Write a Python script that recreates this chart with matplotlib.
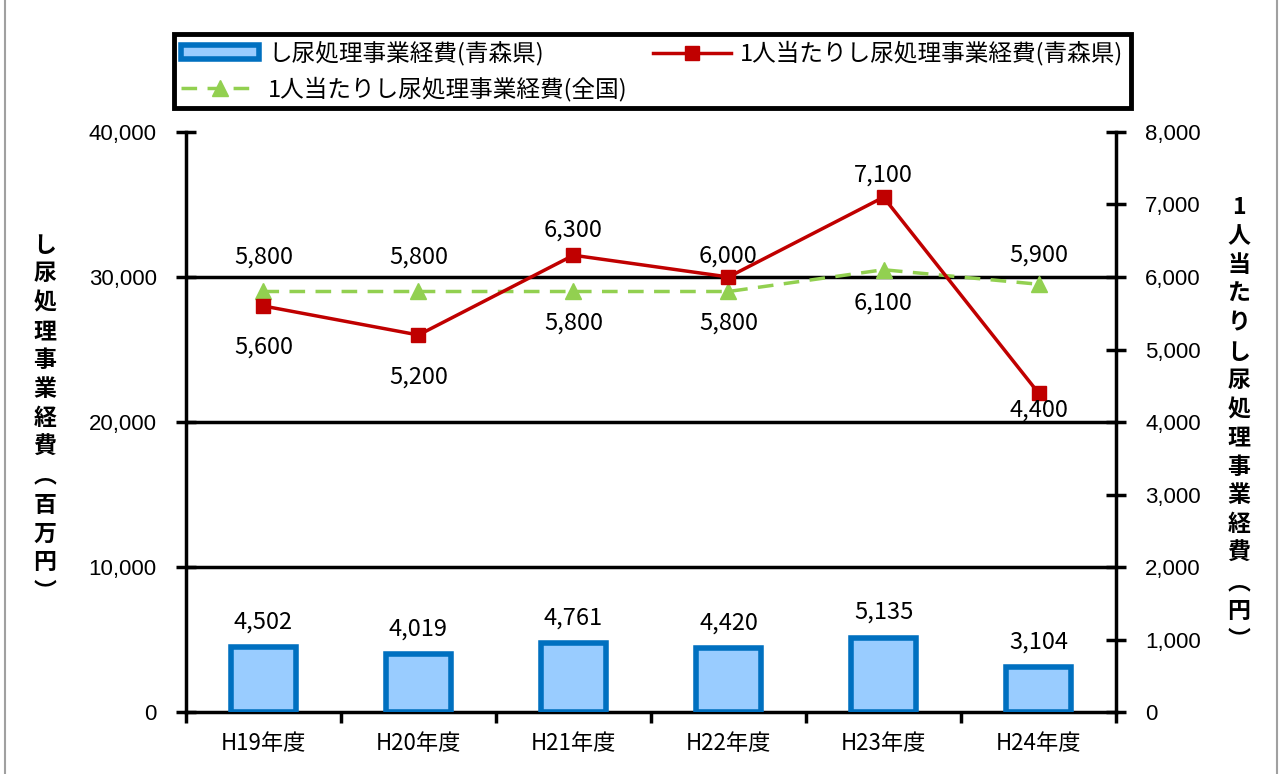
import matplotlib.pyplot as plt
from matplotlib.patches import Rectangle
from matplotlib.ticker import FuncFormatter, MultipleLocator

plt.rcParams['font.family'] = ['Noto Sans CJK JP', 'DejaVu Sans']

# データ
years = ['H19年度', 'H20年度', 'H21年度', 'H22年度', 'H23年度', 'H24年度']
total_cost = [4502, 4019, 4761, 4420, 5135, 3104]          # し尿処理事業経費（百万円）
per_capita_aomori = [5600, 5200, 6300, 6000, 7100, 4400]   # 1人当たり（青森県）
per_capita_japan = [5800, 5800, 5800, 5800, 6100, 5900]    # 1人当たり（全国）

# ラベルのずらし量（ピクセル、上が正）
aomori_off = [-41, -42, 25, 21, 22, -17]
japan_off = [34, 34, -32, -32, -33, 29]

blue_edge = '#0070C0'
blue_fill = '#99CCFF'
red = '#C00000'
green = '#92D050'

fig = plt.figure(figsize=(12.85, 7.74), dpi=100)
fig.patches.append(Rectangle((0.004, -0.01), 0.99, 1.05, transform=fig.transFigure,
                             fill=False, edgecolor='#a0a0a0', linewidth=1.5))

ax = fig.add_axes([0.1447, 0.080, 0.7238, 0.7495])
x = list(range(len(years)))

bars = ax.bar(x, total_cost, width=0.42, color=blue_fill, edgecolor=blue_edge,
              linewidth=4, zorder=3, label='し尿処理事業経費(青森県)')
for xi, v in zip(x, total_cost):
    ax.annotate(f'{v:,}', (xi, v), xytext=(0, 25), textcoords='offset pixels',
                ha='center', va='center', fontsize=17)

ax.set_xlim(-0.5, 5.5)
ax.set_ylim(0, 40000)
ax.yaxis.set_major_locator(MultipleLocator(10000))
ax.yaxis.set_major_formatter(FuncFormatter(lambda v, p: f'{int(v):,}'))
ax.set_xticks([i - 0.5 for i in range(7)], minor=True)
ax.set_xticks(x)
ax.set_xticklabels(years, fontsize=16)
ax.tick_params(axis='x', which='major', length=0, pad=14)
ax.tick_params(axis='x', which='minor', length=8, width=2.5, direction='out')
ax.tick_params(axis='y', length=14, width=2.5, direction='inout', pad=14)
for lab in ax.get_yticklabels():
    lab.set_family('Liberation Sans')
    lab.set_fontsize(16)
for yv in [10000, 20000, 30000]:
    ax.axhline(yv, color='black', linewidth=2.5, zorder=1)
ax.spines['top'].set_visible(False)
ax.spines['right'].set_visible(False)
ax.spines['left'].set_linewidth(2.5)
ax.spines['bottom'].set_linewidth(2.5)

ax2 = ax.twinx()
ax2.set_ylim(0, 8000)
ax2.yaxis.set_major_locator(MultipleLocator(1000))
ax2.yaxis.set_major_formatter(FuncFormatter(lambda v, p: f'{int(v):,}'))
ax2.tick_params(axis='y', length=14, width=2.5, direction='inout', pad=14)
for lab in ax2.get_yticklabels():
    lab.set_family('Liberation Sans')
    lab.set_fontsize(16)
for s in ['top', 'left', 'bottom']:
    ax2.spines[s].set_visible(False)
ax2.spines['right'].set_linewidth(2.5)

l_japan, = ax2.plot(x, per_capita_japan, color=green, linestyle=(0, (4.5, 3)), linewidth=2.5,
                    marker='^', markersize=11, label='1人当たりし尿処理事業経費(全国)', zorder=4)
l_aomori, = ax2.plot(x, per_capita_aomori, color=red, linewidth=2.5,
                     marker='s', markersize=10, label='1人当たりし尿処理事業経費(青森県)', zorder=5)

for xi, v, off in zip(x, per_capita_aomori, aomori_off):
    ax2.annotate(f'{v:,}', (xi, v), xytext=(0, off), textcoords='offset pixels',
                 ha='center', va='center', fontsize=17, zorder=6)
for xi, v, off in zip(x, per_capita_japan, japan_off):
    ax2.annotate(f'{v:,}', (xi, v), xytext=(0, off), textcoords='offset pixels',
                 ha='center', va='center', fontsize=17, zorder=6)

# 軸タイトル（縦書き）
left_title = 'し尿処理事業経費︵百万円︶'
right_title = '1人当たりし尿処理事業経費︵円︶'
for i, ch in enumerate(left_title):
    fig.text(45 / 1285, 1 - (245 + i * 28.9) / 774, ch, ha='center', va='center',
             fontsize=16.5, fontweight='bold')
for i, ch in enumerate(right_title):
    fig.text(1239 / 1285, 1 - (208 + i * 28.8) / 774, ch, ha='center', va='center',
             fontsize=16.5, fontweight='bold')

leg = fig.legend(handles=[bars, l_japan, l_aomori], ncol=2, loc='upper left',
                 bbox_to_anchor=(0.126, 0.875, 0.763, 0.0966), mode='expand',
                 fontsize=17, frameon=True, fancybox=False, edgecolor='black', framealpha=1,
                 handlelength=3.3, handleheight=0.55, handletextpad=0.4,
                 borderpad=0.3, labelspacing=0.45, columnspacing=1.5)
leg.get_frame().set_linewidth(3.5)

fig.savefig('out.png', dpi=100)
